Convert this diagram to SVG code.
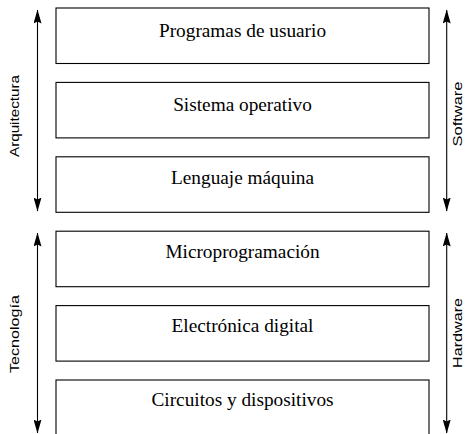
<svg xmlns="http://www.w3.org/2000/svg" width="468" height="434" viewBox="0 0 468 434">
<style>
.box{fill:#fff;stroke:#000;stroke-width:1.1}
.t{font-family:"Liberation Serif","Times New Roman",serif;font-size:19.3px;text-anchor:middle;fill:#000}
.l{font-family:"Liberation Sans",Arial,sans-serif;font-size:12px;text-anchor:middle;fill:#000}
.ax{stroke:#000;stroke-width:1.1;fill:none}
</style>
<defs>
<marker id="ah" viewBox="0 0 14 8" refX="13.5" refY="4" markerWidth="14" markerHeight="8" markerUnits="userSpaceOnUse" orient="auto">
<path d="M0,0 L14,4 L0,8 L2,4 Z" fill="#000"/>
</marker>
</defs>
<g id="n1"><rect class="box" x="56" y="8" width="373" height="55.5"/><text class="t" x="242.5" y="36.7">Programas de usuario</text></g>
<g id="n2"><rect class="box" x="56" y="82.4" width="373" height="55.5"/><text class="t" x="242.5" y="110.5">Sistema operativo</text></g>
<g id="n3"><rect class="box" x="56" y="156.8" width="373" height="55.5"/><text class="t" x="242.5" y="184.4">Lenguaje máquina</text></g>
<g id="n4"><rect class="box" x="56" y="231.2" width="373" height="55.5"/><text class="t" x="242.5" y="258.2">Microprogramación</text></g>
<g id="n5"><rect class="box" x="56" y="305.6" width="373" height="55.5"/><text class="t" x="242.5" y="332.1">Electrónica digital</text></g>
<g id="n6"><rect class="box" x="56" y="380" width="373" height="55.5"/><text class="t" x="242.5" y="406">Circuitos y dispositivos</text></g>
<g id="connectors">
<line class="ax" x1="37.5" y1="110" x2="37.5" y2="10" marker-end="url(#ah)"/>
<line class="ax" x1="37.5" y1="110" x2="37.5" y2="211" marker-end="url(#ah)"/>
<line class="ax" x1="37.5" y1="333" x2="37.5" y2="233" marker-end="url(#ah)"/>
<line class="ax" x1="37.5" y1="333" x2="37.5" y2="433" marker-end="url(#ah)"/>
<line class="ax" x1="446.7" y1="110" x2="446.7" y2="10" marker-end="url(#ah)"/>
<line class="ax" x1="446.7" y1="110" x2="446.7" y2="211" marker-end="url(#ah)"/>
<line class="ax" x1="446.7" y1="333" x2="446.7" y2="233" marker-end="url(#ah)"/>
<line class="ax" x1="446.7" y1="333" x2="446.7" y2="433" marker-end="url(#ah)"/>
</g>
<g id="labels">
<text class="l" transform="translate(19,116) rotate(-90)" textLength="82" lengthAdjust="spacingAndGlyphs">Arquitectura</text>
<text class="l" transform="translate(19,334) rotate(-90)" textLength="78" lengthAdjust="spacingAndGlyphs">Tecnología</text>
<text class="l" transform="translate(462,114) rotate(-90)" textLength="65" lengthAdjust="spacingAndGlyphs">Software</text>
<text class="l" transform="translate(462,333) rotate(-90)" textLength="70" lengthAdjust="spacingAndGlyphs">Hardware</text>
</g>
</svg>
